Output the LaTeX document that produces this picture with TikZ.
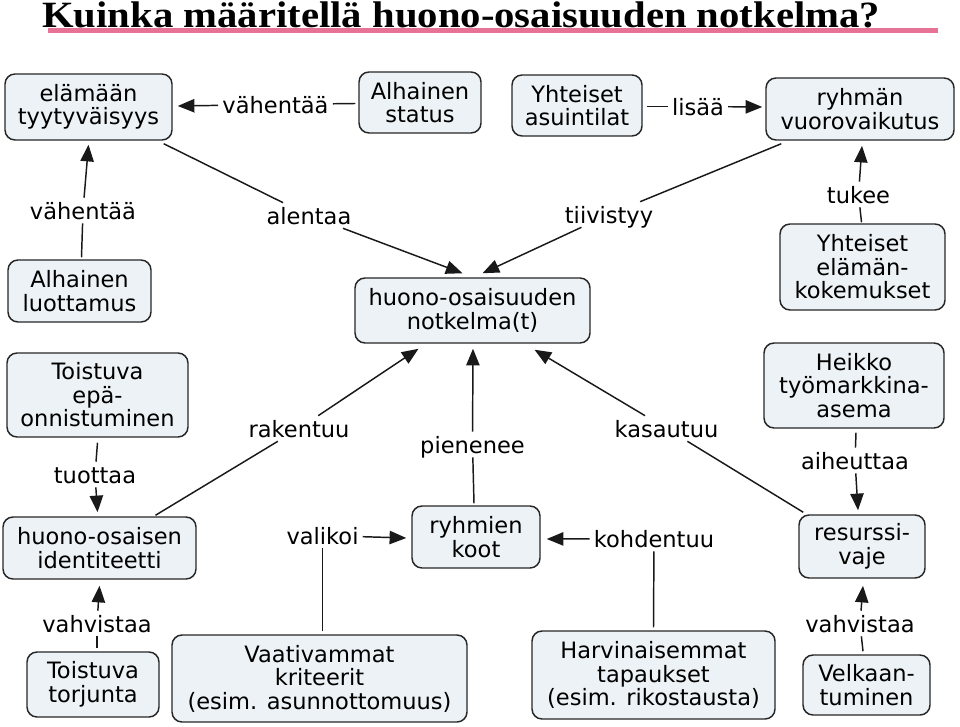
\documentclass[tikz,border=0pt]{standalone}
\usepackage{fontspec}
\setmainfont{DejaVu Sans}
\newfontfamily\titlefont{Liberation Serif}
\usetikzlibrary{arrows.meta,calc}
\definecolor{boxfill}{RGB}{236,242,245}
\definecolor{pinkline}{RGB}{230,115,150}
\tikzset{
  txt/.style={font=\fontsize{16.9}{17.6}\selectfont},
  box/.style={txt,draw=black!85,line width=1.1pt,fill=boxfill,rounded corners=7.5pt,align=center,inner sep=0pt},
  lbl/.style={txt,inner sep=3pt,text height=12.8pt,text depth=0pt},
  conn/.style={line width=1.1pt,draw=black!90},
  arr/.style={conn,-{Triangle[length=12.5pt,width=10pt]}}
}
\begin{document}
\begin{tikzpicture}[x=0.75pt,y=-0.75pt]
\useasboundingbox (0,0) rectangle (960,727);
% title
\coordinate (ulA) at (48,30.5);
\coordinate (ulB) at (938,30.5);
\draw[pinkline,line width=3.6pt] (ulA) -- (ulB);
\node[anchor=base west,inner sep=0pt] (title) at (42,27.5)
  {\scalebox{1.098}[1]{\titlefont\bfseries\fontsize{27.8}{30}\selectfont Kuinka määritellä huono-osaisuuden notkelma?}};
% boxes
\node[box,minimum width=167*0.75pt,minimum height=66*0.75pt] (n1) at (88.5,107) {elämään\\tyytyväisyys};
\node[box,minimum width=122*0.75pt,minimum height=61*0.75pt] (n2) at (420,102.5) {Alhainen\\status};
\node[box,minimum width=130*0.75pt,minimum height=61*0.75pt] (n3) at (577,105.5) {Yhteiset\\asuintilat};
\node[box,minimum width=188*0.75pt,minimum height=62*0.75pt] (n4) at (860,109) {ryhmän\\vuorovaikutus};
\node[box,minimum width=143*0.75pt,minimum height=62*0.75pt] (n5) at (79.5,291) {Alhainen\\luottamus};
\node[box,minimum width=235*0.75pt,minimum height=65*0.75pt] (n6) at (472.5,310.5) {huono-osaisuuden\\notkelma(t)};
\node[box,minimum width=165*0.75pt,minimum height=86*0.75pt] (n7) at (862.5,267) {Yhteiset\\elämän-\\kokemukset};
\node[box,minimum width=181*0.75pt,minimum height=84*0.75pt] (n8) at (97.5,395) {Toistuva\\epä-\\onnistuminen};
\node[box,minimum width=180*0.75pt,minimum height=85*0.75pt] (n9) at (854,385.5) {Heikko\\työmarkkina-\\asema};
\node[box,minimum width=193*0.75pt,minimum height=62*0.75pt] (n10) at (99.5,548) {huono-osaisen\\identiteetti};
\node[box,minimum width=128*0.75pt,minimum height=62*0.75pt] (n11) at (476,537) {ryhmien\\koot};
\node[box,minimum width=126*0.75pt,minimum height=63*0.75pt] (n12) at (862,546.5) {resurssi-\\vaje};
\node[box,minimum width=132*0.75pt,minimum height=65*0.75pt] (n13) at (93,684.5) {Toistuva\\torjunta};
\node[box,minimum width=295*0.75pt,minimum height=87*0.75pt] (n14) at (319.5,678.5) {Vaativammat\\kriteerit\\(esim. asunnottomuus)};
\node[box,minimum width=243*0.75pt,minimum height=88*0.75pt] (n15) at (653.5,675) {Harvinaisemmat\\tapaukset\\(esim. rikostausta)};
\node[box,minimum width=127*0.75pt,minimum height=60*0.75pt] (n16) at (866.5,685) {Velkaan-\\tuminen};
% link labels
\node[lbl] (v1) at (275.5,104.5) {vähentää};
\node[lbl] (li) at (698,106.5) {lisää};
\node[lbl] (v2) at (83,210.5) {vähentää};
\node[lbl] (al) at (309,215.5) {alentaa};
\node[lbl] (ti) at (609,214.5) {tiivistyy};
\node[lbl] (tu) at (858.5,194.5) {tukee};
\node[lbl] (to) at (95,474.5) {tuottaa};
\node[lbl] (ra) at (299,428.5) {rakentuu};
\node[lbl] (pi) at (472.5,444.5) {pienenee};
\node[lbl] (ka) at (666.5,428.5) {kasautuu};
\node[lbl] (ai) at (855,460.5) {aiheuttaa};
\node[lbl] (va) at (322.5,535.5) {valikoi};
\node[lbl] (ko) at (654,538.5) {kohdentuu};
\node[lbl] (vh1) at (97,623.5) {vahvistaa};
\node[lbl] (vh2) at (860,623.5) {vahvistaa};
% connectors
\draw[conn] ($(n2.west)+(-3,1)$) -- (v1);
\draw[arr] (v1) -- ($(n1.east)+(5,-1)$);
\draw[conn] ($(n3.east)+(4,1)$) -- (li);
\draw[arr] (li) -- ($(n4.west)+(-3,-2)$);
\draw[conn] ($(n5.north)+(2,-2)$) -- (v2);
\draw[arr] (v2) -- ($(n1.south)+(0,4)$);
\draw[conn] ($(n1.south east)+(-9,3)$) -- (al);
\draw[arr] (al) -- ($(n6.north)+(-10,-4)$);
\draw[conn] ($(n4.south west)+(16,3)$) -- (ti);
\draw[arr] (ti) -- ($(n6.north)+(10,-4)$);
\draw[conn] ($(n7.north)+(-1,-1)$) -- (tu);
\draw[arr] (tu) -- ($(n4.south)+(2,5)$);
\draw[conn] ($(n8.south)+(0,5)$) -- (to);
\draw[arr] (to) -- ($(n10.north)+(-2,-4)$);
\draw[conn] ($(n10.north)+(56,-1)$) -- (ra);
\draw[arr] (ra) -- ($(n6.south)+(-54,5)$);
\draw[conn] ($(n11.north)+(-2,-2)$) -- (pi);
\draw[arr] (pi) -- ($(n6.south)+(0.5,5)$);
\draw[conn] ($(n12.north west)+(5,-2)$) -- (ka);
\draw[arr] (ka) -- ($(n6.south)+(62,6)$);
\draw[conn] ($(n9.south)+(2,4)$) -- (ai);
\draw[arr] (ai) -- ($(n12.north)+(-4,-4)$);
\draw[conn] ($(n14.north)+(3,-3)$) -- (va);
\draw[arr] (va) -- ($(n11.west)+(-5,1)$);
\draw[conn] ($(n15.north)+(0,-3)$) -- (ko);
\draw[arr] (ko) -- ($(n11.east)+(6,2)$);
\draw[conn] ($(n13.north)+(4,-3)$) -- (vh1);
\draw[arr] (vh1) -- ($(n10.south)+(0,6)$);
\draw[conn] ($(n16.north)+(-3.5,-3)$) -- (vh2);
\draw[arr] (vh2) -- ($(n12.south)+(1,7)$);
\end{tikzpicture}
\end{document}
